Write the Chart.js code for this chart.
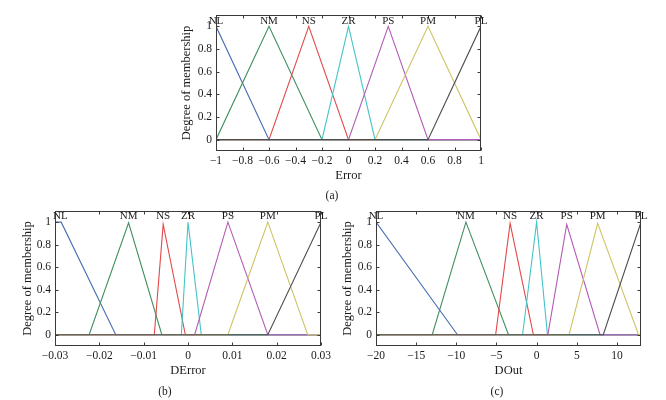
<!DOCTYPE html>
<html>
<head>
<meta charset="utf-8">
<script src="https://cdn.jsdelivr.net/npm/chart.js@4"></script>
<style>
  body { margin: 0; background: #fff; width: 666px; height: 400px; overflow: hidden; position: relative; }
  canvas { position: absolute; }
  .cap { position: absolute; font: 11.5px "Liberation Serif", serif; color: #1a1a1a; transform: translate(-50%, -50%); }
</style>
</head>
<body>
<canvas id="cA" width="350" height="190" style="left:150px;top:0px"></canvas>
<canvas id="cB" width="340" height="200" style="left:0px;top:200px"></canvas>
<canvas id="cC" width="336" height="200" style="left:330px;top:200px"></canvas>
<div class="cap" style="left:332px;top:195px">(a)</div>
<div class="cap" style="left:165px;top:391px">(b)</div>
<div class="cap" style="left:497px;top:391px">(c)</div>
<script>
// membership function names and colours (same order in every panel)
const mfNames = ['NL', 'NM', 'NS', 'ZR', 'PS', 'PM', 'PL'];
const mfColors = ['#4a6cb3', '#3f8f5f', '#e34848', '#45c4c8', '#b35ab5', '#cdc465', '#4d4d4d'];
const yTicks = [0, 0.2, 0.4, 0.6, 0.8, 1];

// (a) Error
const errorTicks = [-1, -0.8, -0.6, -0.4, -0.2, 0, 0.2, 0.4, 0.6, 0.8, 1];
const errorPeaks = [-1, -0.6, -0.3, 0, 0.3, 0.6, 1];
const errorXs = [
  [-1, -0.6, 1],
  [-1, -0.6, -0.2, 1],
  [-1, -0.6, -0.3, 0, 1],
  [-1, -0.2, 0, 0.2, 1],
  [-1, 0, 0.3, 0.6, 1],
  [-1, 0.2, 0.6, 1],
  [-1, 0.6, 1]
];
const errorYs = [
  [1, 0, 0],
  [0, 1, 0, 0],
  [0, 0, 1, 0, 0],
  [0, 0, 1, 0, 0],
  [0, 0, 1, 0, 0],
  [0, 0, 1, 0],
  [0, 0, 1]
];

// (b) DError
const derrTicks = [-0.03, -0.02, -0.01, 0, 0.01, 0.02, 0.03];
const derrPeaks = [-0.0288, -0.0134, -0.0056, 0, 0.009, 0.018, 0.03];
const derrXs = [
  [-0.03, -0.0286, -0.0163, 0.03],
  [-0.03, -0.0223, -0.0134, -0.0059, 0.03],
  [-0.03, -0.0076, -0.0056, -0.0006, 0.03],
  [-0.03, -0.0015, 0, 0.003, 0.03],
  [-0.03, 0.0015, 0.009, 0.018, 0.03],
  [-0.03, 0.009, 0.018, 0.027, 0.03],
  [-0.03, 0.018, 0.03]
];
const derrYs = [
  [1, 1, 0, 0],
  [0, 0, 0.995, 0, 0],
  [0, 0, 0.98, 0, 0],
  [0, 0, 1, 0, 0],
  [0, 0, 1, 0, 0],
  [0, 0, 1, 0, 0],
  [0, 0, 1]
];

// (c) DOut
const doutTicks = [-20, -15, -10, -5, 0, 5, 10];
const doutPeaks = [-20, -8.8, -3.3, 0, 3.75, 7.6, 13];
const doutXs = [
  [-20, -9.85, 13],
  [-20, -13, -8.8, -3.5, 13],
  [-20, -5.1, -3.3, -0.4, 13],
  [-20, -1.75, 0, 1.35, 13],
  [-20, 1.4, 3.75, 7.9, 13],
  [-20, 4.05, 7.6, 12.7, 13],
  [-20, 8.3, 13]
];
const doutYs = [
  [1, 0, 0],
  [0, 0, 1, 0, 0],
  [0, 0, 0.99, 0, 0],
  [0, 0, 1, 0, 0],
  [0, 0, 0.98, 0, 0],
  [0, 0, 0.99, 0, 0],
  [0, 0, 1]
];

const serif = '"Liberation Serif", "DejaVu Serif", serif';
const ink = '#1a1a1a';
const fmt = v => String(v).replace('-', '\u2212');

// box with inward ticks + MF names over the peaks
const framePlugin = {
  id: 'frame',
  afterDatasetsDraw(chart, args, opts) {
    const { ctx, chartArea: a, scales: { x, y } } = chart;
    const L = Math.round(a.left) + 0.5, R = Math.round(a.right) - 0.5;
    const T = Math.round(a.top) + 0.5, B = Math.round(a.bottom) - 0.5;
    ctx.save();
    ctx.strokeStyle = '#3a3a3a';
    ctx.lineWidth = 1;
    ctx.strokeRect(L, T, R - L, B - T);
    ctx.beginPath();
    opts.xTicks.forEach(v => {
      const px = Math.round(x.getPixelForValue(v)) + 0.5;
      ctx.moveTo(px, B); ctx.lineTo(px, B - 3);
      ctx.moveTo(px, T); ctx.lineTo(px, T + 3);
    });
    yTicks.forEach(v => {
      const py = Math.round(y.getPixelForValue(v)) + 0.5;
      ctx.moveTo(L, py); ctx.lineTo(L + 3, py);
      ctx.moveTo(R, py); ctx.lineTo(R - 3, py);
    });
    ctx.stroke();
    ctx.font = '11px ' + serif;
    ctx.fillStyle = ink;
    ctx.textAlign = 'center';
    ctx.textBaseline = 'middle';
    mfNames.forEach((n, i) => {
      ctx.fillText(n, x.getPixelForValue(opts.peaks[i]), y.getPixelForValue(1.05));
    });
    ctx.restore();
  }
};

function makeChart(id, xs, ys, peaks, xTicks, xMin, xMax, xTitle, lay) {
  const datasets = mfNames.map((n, i) => ({
    label: n,
    data: xs[i].map((v, j) => ({ x: v, y: ys[i][j] })),
    borderColor: mfColors[i],
    borderWidth: 1.1,
    pointRadius: 0,
    tension: 0,
    fill: false,
    order: mfNames.length - i
  }));
  return new Chart(document.getElementById(id), {
    type: 'line',
    data: { datasets },
    plugins: [framePlugin],
    options: {
      responsive: false,
      animation: false,
      layout: { padding: { left: 0, top: lay.top, right: lay.right, bottom: lay.bottom } },
      plugins: {
        legend: { display: false },
        tooltip: { enabled: false },
        frame: { xTicks, peaks }
      },
      scales: {
        x: {
          type: 'linear', min: xMin, max: xMax,
          afterBuildTicks: s => { s.ticks = xTicks.map(v => ({ value: v })); },
          afterFit: s => { s.height = 39; },
          grid: { display: false, drawTicks: false },
          border: { display: false },
          ticks: { font: { family: serif, size: 11.5 }, color: ink, padding: 3, maxRotation: 0, autoSkip: false, callback: v => fmt(v) },
          title: { display: true, text: xTitle, font: { family: serif, size: 12.5 }, color: ink, padding: { top: 0, bottom: 6.5 } }
        },
        y: {
          type: 'linear', min: -0.1, max: 1.1,
          afterBuildTicks: s => { s.ticks = yTicks.map(v => ({ value: v })); },
          afterFit: s => { s.width = lay.yw; },
          grid: { display: false, drawTicks: false },
          border: { display: false },
          ticks: { font: { family: serif, size: 11.5 }, color: ink, padding: 4, autoSkip: false, callback: v => fmt(v) },
          title: { display: true, text: 'Degree of membership', font: { family: serif, size: 12.5 }, color: ink, padding: { top: lay.yt, bottom: 0 } }
        }
      }
    }
  });
}

makeChart('cA', errorXs, errorYs, errorPeaks, errorTicks, -1, 1, 'Error', { top: 15, right: 19, bottom: 0, yw: 66, yt: 29.5 });
makeChart('cB', derrXs, derrYs, derrPeaks, derrTicks, -0.03, 0.03, 'DError', { top: 10, right: 19, bottom: 15, yw: 55, yt: 20.5 });
makeChart('cC', doutXs, doutYs, doutPeaks, doutTicks, -20, 13, 'DOut', { top: 10, right: 25, bottom: 15, yw: 46, yt: 10.5 });
</script>
</body>
</html>
